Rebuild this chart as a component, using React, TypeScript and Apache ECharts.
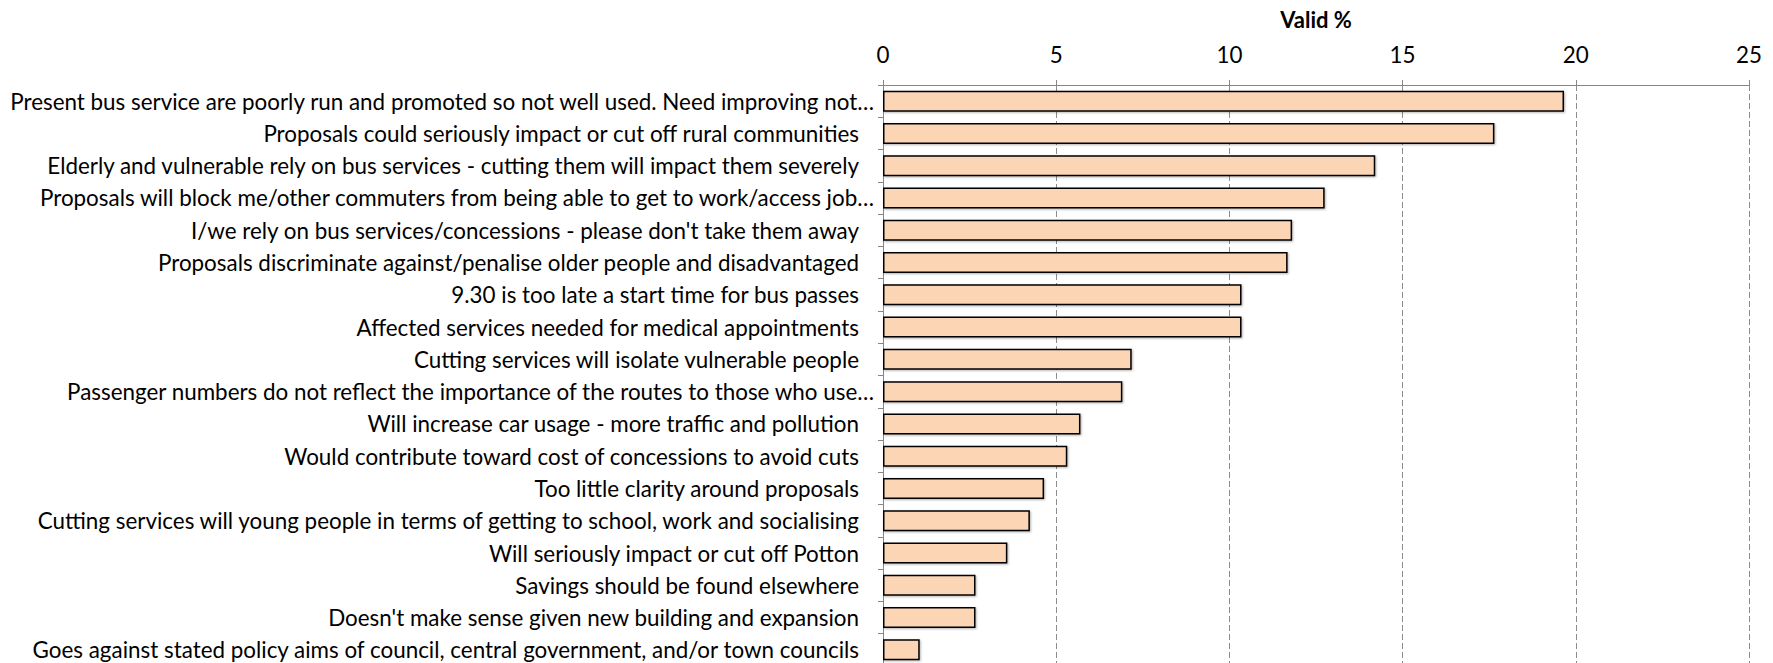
import React, { useEffect, useRef } from "react";
import * as echarts from "echarts";

const categories: string[] = [
  "Present bus service are poorly run and promoted so not well used. Need improving not…",
  "Proposals could seriously impact or cut off rural communities",
  "Elderly and vulnerable rely on bus services - cutting them will impact them severely",
  "Proposals will block me/other commuters from being able to get to work/access job…",
  "I/we rely on bus services/concessions - please don't take them away",
  "Proposals discriminate against/penalise older people and disadvantaged",
  "9.30 is too late a start time for bus passes",
  "Affected services needed for medical appointments",
  "Cutting services will isolate vulnerable people",
  "Passenger numbers do not reflect the importance of the routes to those who use…",
  "Will increase car usage - more traffic and pollution",
  "Would contribute toward cost of concessions to avoid cuts",
  "Too little clarity around proposals",
  "Cutting services will young people in terms of getting to school, work and socialising",
  "Will seriously impact or cut off Potton",
  "Savings should be found elsewhere",
  "Doesn't make sense given new building and expansion",
  "Goes against stated policy aims of council, central government, and/or town councils",
];

const validPercent: number[] = [
  19.66, 17.65, 14.21, 12.75, 11.81, 11.68, 10.35, 10.35, 7.18, 6.91, 5.7, 5.32,
  4.65, 4.24, 3.59, 2.67, 2.67, 1.06,
];

const axisTitle = "Valid %";
const axisMin = 0;
const axisMax = 25;
const axisInterval = 5;

export default function App() {
  const ref = useRef<HTMLDivElement>(null);
  useEffect(() => {
    if (!ref.current) return;
    const chart = echarts.init(ref.current, undefined, { renderer: "svg" });
    const font = "Lato";
    const fs = 22.4;
    chart.setOption({
      animation: false,
      backgroundColor: "#ffffff",
      grid: {
        left: 883,
        right: 24,
        top: 85,
        bottom: -3,
        containLabel: false,
        outerBoundsMode: "none",
      },
      xAxis: {
        type: "value",
        position: "top",
        min: axisMin,
        max: axisMax,
        interval: axisInterval,
        name: axisTitle,
        nameLocation: "middle",
        nameGap: 55,
        nameMoveOverlap: false,
        nameTextStyle: { fontFamily: font, fontWeight: "bold", fontSize: 22, color: "#000" },
        axisLine: { show: true, lineStyle: { color: "#868686", width: 1 } },
        axisTick: { show: true, length: 5, lineStyle: { color: "#868686" } },
        axisLabel: { fontFamily: font, fontSize: fs, color: "#000", margin: 20 },
        splitLine: { show: true, lineStyle: { color: "#8c8c8c", type: [6, 3], width: 1 } },
      },
      yAxis: {
        type: "category",
        inverse: true,
        data: categories,
        axisLine: { show: true, lineStyle: { color: "#868686", width: 1 } },
        axisTick: { show: true, length: 5, lineStyle: { color: "#868686" } },
        axisLabel: {
          fontFamily: font,
          fontSize: fs,
          color: "#000",
          margin: 9,
          formatter: (v: string) => (v.endsWith("…") ? `{t|${v}}` : `{p|${v}}`),
          rich: {
            t: { fontFamily: font, fontSize: fs, color: "#000" },
            p: { fontFamily: font, fontSize: fs, color: "#000", padding: [0, 15, 0, 0] },
          },
        },
      },
      series: [
        {
          type: "bar",
          data: validPercent,
          barWidth: 21,
          itemStyle: {
            color: "#FCD5B4",
            borderColor: "#000",
            borderWidth: 1.5,
            shadowColor: "rgba(0,0,0,0.3)",
            shadowBlur: 2,
            shadowOffsetX: 1,
            shadowOffsetY: 1,
          },
        },
      ],
    });
    return () => chart.dispose();
  }, []);
  return (
    <div
      ref={ref}
      style={{ position: "fixed", left: 0, top: 0, width: 1773, height: 663 }}
    />
  );
}
